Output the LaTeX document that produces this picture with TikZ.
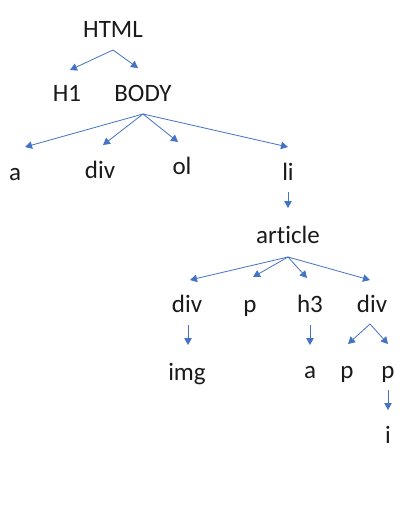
\documentclass[tikz,border=0pt]{standalone}
\usepackage{fontspec}
\setmainfont{Carlito}[Ligatures={NoCommon}]
\usetikzlibrary{arrows.meta}
\definecolor{arrowblue}{HTML}{4472C4}
\definecolor{txt}{HTML}{1A1A1A}
\begin{document}
\begin{tikzpicture}[x=1pt,y=-1pt,
  lbl/.style={anchor=base, inner sep=0pt, outer sep=0pt, text height=16pt, text depth=5pt, font=\fontsize{25}{30}\selectfont, text=txt},
  arr/.style={draw=arrowblue, line width=0.8pt, -{Triangle[length=7pt,width=7.5pt]}}]
\useasboundingbox[fill=white] (0,0) rectangle (412,509);
% nodes (x, baseline)
\node[lbl] (html) at (113,37) {HTML};
\node[lbl] (h1) at (67,101) {H1};
\node[lbl] (body) at (143,101) {BODY};
\node[lbl] (a1) at (15,180) {a};
\node[lbl] (div1) at (100,178) {div};
\node[lbl] (ol) at (182,174) {ol};
\node[lbl] (li) at (288,180) {li};
\node[lbl] (article) at (288,243) {article};
\node[lbl] (div2) at (187,312) {div};
\node[lbl] (p1) at (250,312) {p};
\node[lbl] (h3) at (310,312) {h3};
\node[lbl] (div3) at (372,312) {div};
\node[lbl] (img) at (187,380) {img};
\node[lbl] (a2) at (310,378) {a};
\node[lbl] (p2) at (347,378) {p};
\node[lbl] (p3) at (388,378) {p};
\node[lbl] (i) at (388,443) {i};
% connectors
\draw[arr] ([yshift=-8pt]html.south) -- ([xshift=3pt,yshift=15pt]h1.north);
\draw[arr] ([yshift=-8pt]html.south) -- ([xshift=-5pt,yshift=17pt]body.north);
\draw[arr] ([yshift=-8pt]body.south) -- ([xshift=10pt,yshift=17pt]a1.north);
\draw[arr] ([yshift=-8pt]body.south) -- ([xshift=3pt,yshift=17pt]div1.north);
\draw[arr] ([yshift=-8pt]body.south) -- ([xshift=-4pt,yshift=16pt]ol.north);
\draw[arr] ([yshift=-8pt]body.south) -- ([yshift=17pt]li.north);
\draw[arr] ([yshift=-7pt]li.south) -- ([yshift=19pt]article.north);
\draw[arr] ([yshift=-9pt]article.south) -- ([xshift=3pt,yshift=16pt]div2.north);
\draw[arr] ([yshift=-9pt]article.south) -- ([xshift=3pt,yshift=19pt]p1.north);
\draw[arr] ([yshift=-9pt]article.south) -- ([xshift=-3pt,yshift=18pt]h3.north);
\draw[arr] ([yshift=-9pt]article.south) -- ([xshift=-2pt,yshift=16pt]div3.north);
\draw[arr] ([xshift=1pt,yshift=-8pt]div2.south) -- ([xshift=1pt,yshift=19pt]img.north);
\draw[arr] ([yshift=-8pt]h3.south) -- ([yshift=17pt]a2.north);
\draw[arr] ([xshift=-2pt,yshift=-7pt]div3.south) -- ([xshift=1pt,yshift=18pt]p2.north);
\draw[arr] ([xshift=-2pt,yshift=-7pt]div3.south) -- ([yshift=18pt]p3.north);
\draw[arr] ([yshift=-7pt]p3.south) -- ([yshift=17pt]i.north);
\end{tikzpicture}
\end{document}
